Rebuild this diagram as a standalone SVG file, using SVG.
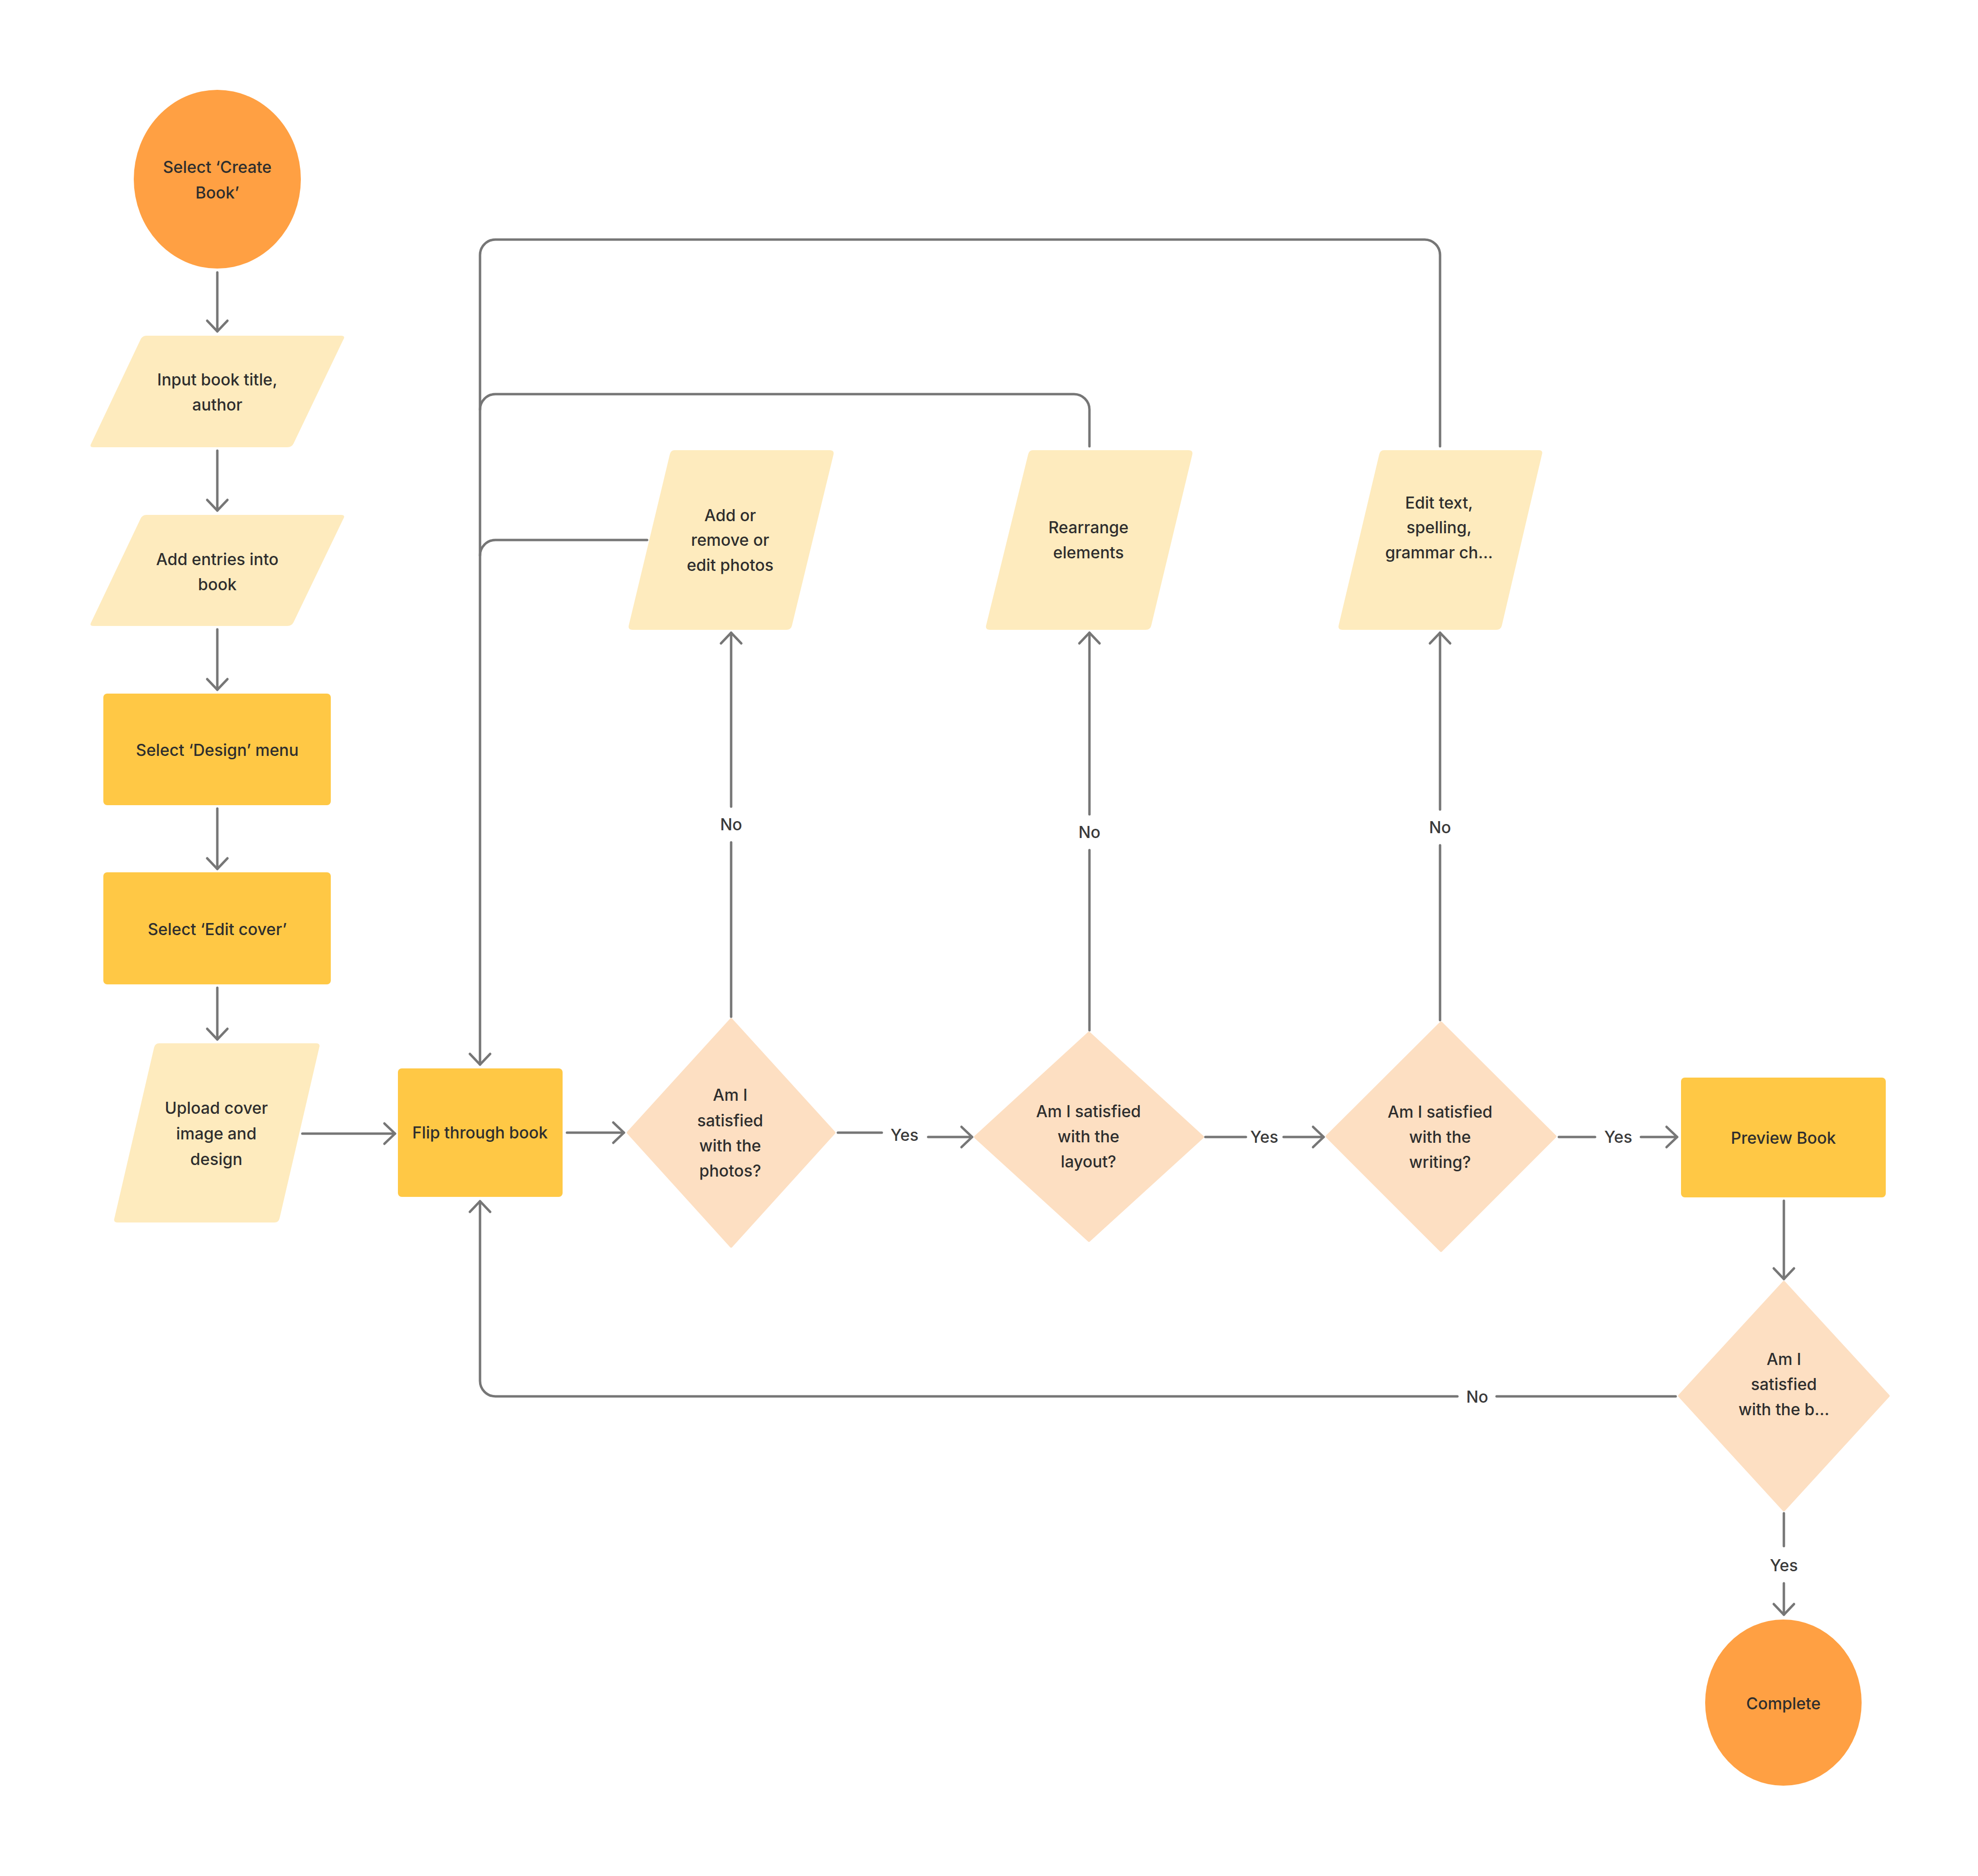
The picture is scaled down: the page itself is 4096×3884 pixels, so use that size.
<svg xmlns="http://www.w3.org/2000/svg" width="4096" height="3884" viewBox="0 0 4096 3884">
<style>
.t{font-family:Inter,"Noto Sans","Liberation Sans",sans-serif;font-size:33.5px;font-weight:500;fill:#2e2e2e;text-anchor:middle}
.lb{font-family:Inter,"Noto Sans","Liberation Sans",sans-serif;font-size:33.5px;font-weight:500;fill:#3a3a3a;text-anchor:middle}
.c{fill:none;stroke:#767676;stroke-width:5;stroke-linecap:round;stroke-linejoin:round}
.term{fill:#FFA043}
.proc{fill:#FFC845}
.io{fill:#FEEBBE}
.dec{fill:#FDDFC2}
</style>
<defs>
<marker id="arr" markerUnits="userSpaceOnUse" markerWidth="60" markerHeight="60" viewBox="-30 -30 60 60" refX="0" refY="0" orient="auto" overflow="visible">
<path d="M-22,-21 L0,0 L-22,21" fill="none" stroke="#767676" stroke-width="5" stroke-linecap="round" stroke-linejoin="round"/>
</marker>
</defs>
<rect width="4096" height="3884" fill="#ffffff"/>

<g id="connectors">
<path class="c" d="M450,564 V686" marker-end="url(#arr)"/>
<path class="c" d="M450,933 V1057" marker-end="url(#arr)"/>
<path class="c" d="M450,1303 V1428" marker-end="url(#arr)"/>
<path class="c" d="M450,1674 V1799" marker-end="url(#arr)"/>
<path class="c" d="M450,2045 V2152" marker-end="url(#arr)"/>
<path class="c" d="M626,2347 H818" marker-end="url(#arr)"/>
<path class="c" d="M1174,2345 H1292" marker-end="url(#arr)"/>
<path class="c" d="M2982,924 V528 A32,32 0 0 0 2950,496 H1026 A32,32 0 0 0 994,528 V2204" marker-end="url(#arr)"/>
<path class="c" d="M2256,924 V848 A32,32 0 0 0 2224,816 H1026 A32,32 0 0 0 994,848"/>
<path class="c" d="M1340,1118 H1026 A32,32 0 0 0 994,1150"/>
<path class="c" d="M1514,2105 V1744"/>
<path class="c" d="M1514,1670 V1310" marker-end="url(#arr)"/>
<path class="c" d="M2256,2133 V1760"/>
<path class="c" d="M2256,1686 V1310" marker-end="url(#arr)"/>
<path class="c" d="M2982,2112 V1750"/>
<path class="c" d="M2982,1676 V1310" marker-end="url(#arr)"/>
<path class="c" d="M1735,2345 H1826"/>
<path class="c" d="M1922,2354 H2013" marker-end="url(#arr)"/>
<path class="c" d="M2496,2354 H2580"/>
<path class="c" d="M2658,2354 H2741" marker-end="url(#arr)"/>
<path class="c" d="M3228,2354 H3303"/>
<path class="c" d="M3398,2354 H3473" marker-end="url(#arr)"/>
<path class="c" d="M3694,2486 V2648" marker-end="url(#arr)"/>
<path class="c" d="M3470,2891 H3099"/>
<path class="c" d="M3018,2891 H1026 A32,32 0 0 1 994,2859 V2487" marker-end="url(#arr)"/>
<path class="c" d="M3694,3133 V3201"/>
<path class="c" d="M3694,3278 V3343" marker-end="url(#arr)"/>
<text class="lb" x="1514" y="1719">No</text>
<text class="lb" x="2256" y="1735">No</text>
<text class="lb" x="2982" y="1725">No</text>
<text class="lb" x="1873" y="2362">Yes</text>
<text class="lb" x="2618" y="2366">Yes</text>
<text class="lb" x="3351" y="2366">Yes</text>
<text class="lb" x="3059" y="2904">No</text>
<text class="lb" x="3694" y="3253">Yes</text>
</g>

<g id="n-start">
<ellipse class="term" cx="450" cy="371" rx="173" ry="185"/>
<text class="t" x="450" y="358">Select ‘Create</text>
<text class="t" x="450" y="411">Book’</text>
</g>
<g id="n-input">
<path class="io" d="M303,695 H706 Q716,695 711,703 L608,918 Q604,926 595,926 H194 Q184,926 189,918 L291,703 Q295,695 303,695 Z"/>
<text class="t" x="450" y="798">Input book title,</text>
<text class="t" x="450" y="850">author</text>
</g>
<g id="n-entries">
<path class="io" d="M303,1066 H706 Q716,1066 711,1074 L608,1288 Q604,1296 595,1296 H194 Q184,1296 189,1288 L291,1074 Q295,1066 303,1066 Z"/>
<text class="t" x="450" y="1170">Add entries into</text>
<text class="t" x="450" y="1222">book</text>
</g>
<g id="n-design">
<rect class="proc" x="214" y="1436" width="471" height="231" rx="8"/>
<text class="t" x="450" y="1565">Select ‘Design’ menu</text>
</g>
<g id="n-editcover">
<rect class="proc" x="214" y="1806" width="471" height="232" rx="8"/>
<text class="t" x="450" y="1936">Select ‘Edit cover’</text>
</g>
<g id="n-upload">
<path class="io" d="M330,2160 H654 Q664,2160 661,2169 L579,2522 Q577,2531 568,2531 H244 Q234,2531 237,2522 L319,2169 Q321,2160 330,2160 Z"/>
<text class="t" x="448" y="2306">Upload cover</text>
<text class="t" x="448" y="2359">image and</text>
<text class="t" x="448" y="2412">design</text>
</g>
<g id="n-flip">
<rect class="proc" x="824" y="2212" width="341" height="266" rx="8"/>
<text class="t" x="994" y="2357">Flip through book</text>
</g>
<g id="n-d1">
<path class="dec" d="M1514,2111 L1727,2345 L1514,2580 L1301,2345 Z" stroke="#FDDFC2" stroke-width="6" stroke-linejoin="round"/>
<text class="t" x="1512" y="2279">Am I</text>
<text class="t" x="1512" y="2332">satisfied</text>
<text class="t" x="1512" y="2384">with the</text>
<text class="t" x="1512" y="2436">photos?</text>
</g>
<g id="n-addphotos">
<path class="io" d="M1397,932 H1718 Q1728,932 1726,941 L1640,1295 Q1638,1304 1628,1304 H1310 Q1300,1304 1302,1295 L1387,941 Q1389,932 1397,932 Z"/>
<text class="t" x="1512" y="1079">Add or</text>
<text class="t" x="1512" y="1130">remove or</text>
<text class="t" x="1512" y="1182">edit photos</text>
</g>
<g id="n-d2">
<path class="dec" d="M2255,2139 L2490,2354 L2255,2568 L2020,2354 Z" stroke="#FDDFC2" stroke-width="6" stroke-linejoin="round"/>
<text class="t" x="2254" y="2313">Am I satisfied</text>
<text class="t" x="2254" y="2365">with the</text>
<text class="t" x="2254" y="2417">layout?</text>
</g>
<g id="n-rearrange">
<path class="io" d="M2139,932 H2461 Q2471,932 2469,941 L2384,1295 Q2382,1304 2372,1304 H2050 Q2040,1304 2042,1295 L2129,941 Q2131,932 2139,932 Z"/>
<text class="t" x="2254" y="1104">Rearrange</text>
<text class="t" x="2254" y="1156">elements</text>
</g>
<g id="n-d3">
<path class="dec" d="M2984,2118 L3220,2353 L2984,2589 L2748,2353 Z" stroke="#FDDFC2" stroke-width="6" stroke-linejoin="round"/>
<text class="t" x="2982" y="2314">Am I satisfied</text>
<text class="t" x="2982" y="2366">with the</text>
<text class="t" x="2982" y="2418">writing?</text>
</g>
<g id="n-edittext">
<path class="io" d="M2866,932 H3186 Q3196,932 3193,941 L3110,1295 Q3108,1304 3098,1304 H2780 Q2770,1304 2772,1295 L2856,941 Q2858,932 2866,932 Z"/>
<text class="t" x="2980" y="1053">Edit text,</text>
<text class="t" x="2980" y="1104">spelling,</text>
<text class="t" x="2980" y="1156">grammar ch...</text>
</g>
<g id="n-preview">
<rect class="proc" x="3481" y="2231" width="424" height="248" rx="8"/>
<text class="t" x="3693" y="2368">Preview Book</text>
</g>
<g id="n-d4">
<path class="dec" d="M3694,2655 L3910,2890 L3694,3126 L3478,2890 Z" stroke="#FDDFC2" stroke-width="6" stroke-linejoin="round"/>
<text class="t" x="3694" y="2826">Am I</text>
<text class="t" x="3694" y="2878">satisfied</text>
<text class="t" x="3694" y="2930">with the b...</text>
</g>
<g id="n-complete">
<ellipse class="term" cx="3693" cy="3525" rx="162" ry="172"/>
<text class="t" x="3693" y="3539">Complete</text>
</g>
</svg>
